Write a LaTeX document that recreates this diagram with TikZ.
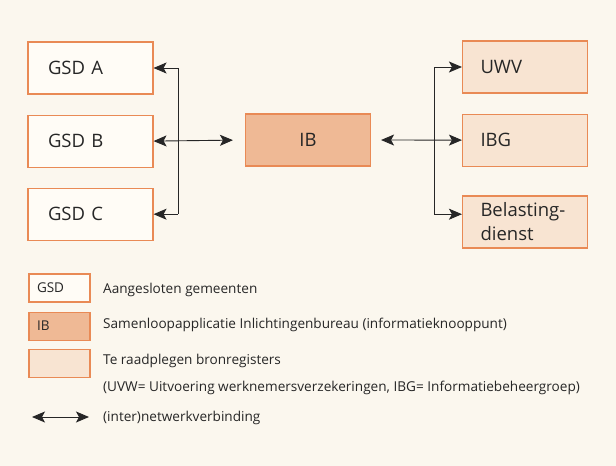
\documentclass[tikz,border=0pt]{standalone}
\usepackage{fontspec}
\setmainfont{Open Sans}
\usepackage{tikz}
\usetikzlibrary{positioning}
\usetikzlibrary{arrows.meta}
\definecolor{bgcream}{HTML}{FBF7EE}
\definecolor{boxline}{HTML}{E98A55}
\definecolor{ibfill}{HTML}{EFB995}
\definecolor{regfill}{HTML}{F8E4D2}
\definecolor{gsdfill}{HTML}{FFFCF6}
\definecolor{inkgray}{HTML}{262626}
\tikzset{
  arrtip/.tip={Stealth[length=13pt,width=11pt,inset=3pt]},
  gsdbox/.style={draw=boxline,fill=gsdfill,line width=1.1pt,minimum width=125pt,minimum height=52pt,
    text width=85pt,inner xsep=20pt,align=left,text=inkgray,font=\fontsize{18.5}{24}\selectfont},
  ibbox/.style={gsdbox,fill=ibfill,align=center},
  regbox/.style={gsdbox,fill=regfill,text width=89pt,inner xsep=18pt},
  keybox/.style={draw=boxline,line width=1.1pt,minimum width=61pt,minimum height=28pt,
    text width=45pt,inner xsep=8pt,align=left,text=inkgray,font=\fontsize{13.5}{15}\selectfont},
  keytext/.style={anchor=west,inner sep=0pt,text=inkgray,font=\fontsize{13.6}{16}\selectfont},
  wire/.style={draw=inkgray,line width=0.9pt},
  link/.style={wire,arrtip-arrtip}
}
\begin{document}
\begin{tikzpicture}[x=1pt,y=-1pt]
  \fill[bgcream] (0,0) rectangle (616,466);
  \useasboundingbox (0,0) rectangle (616,466);
  \node[gsdbox] (gsda) at (90.5,68) {GSD A};
  \node[gsdbox,below=20pt of gsda] (gsdb) {GSD B};
  \node[gsdbox,below=20pt of gsdb] (gsdc) {GSD C};
  \node[ibbox] (ib) at (308,140) {IB};
  \node[regbox] (uwv) at (525,67) {UWV};
  \node[regbox,below=20pt of uwv] (ibg) {IBG};
  \node[regbox,minimum height=52pt] (bel) at (525,222) {Belasting-\\dienst};
  \coordinate (lj) at (178,140);
  \coordinate (rj) at (434,140);
  \draw[link,shorten >=12pt] (gsdb.east) -- (ib.west);
  \draw[link,shorten <=10pt] (ib.east) -- (ibg.west);
  \draw[wire] (gsda.east -| lj) -- (gsdc.east -| lj);
  \draw[wire,arrtip-] (gsda.east) -- (gsda.east -| lj);
  \draw[wire,arrtip-] (gsdc.east) -- (gsdc.east -| lj);
  \draw[wire] (rj |- uwv.west) -- (rj |- gsdc.east);
  \draw[wire,-arrtip] (rj |- uwv.west) -- (uwv.west);
  \draw[wire,-arrtip] (rj |- gsdc.east) -- (bel.west |- gsdc.east);
  % legenda
  \node[keybox,fill=gsdfill] (kgsd) at (59.5,288) {GSD};
  \node[keybox,fill=ibfill,below=9pt of kgsd] (kib) {IB};
  \node[keybox,fill=regfill,below=8pt of kib] (kreg) {};
  \node[keytext] (tgsd) at (103,290) {Aangesloten gemeenten};
  \node[keytext] (tib) at (103,325) {Samenloopapplicatie Inlichtingenbureau (informatieknooppunt)};
  \node[keytext] (treg) at (103,361) {Te raadplegen bronregisters};
  \node[keytext] (tuwv) at (103,388) {(UVW= Uitvoering werknemersverzekeringen, IBG= Informatiebeheergroep)};
  \coordinate (ka) at (32,417);
  \coordinate (kb) at (89,417);
  \draw[link] (ka) -- (kb);
  \node[keytext] (tnet) at (103,418) {(inter)netwerkverbinding};
\end{tikzpicture}
\end{document}
